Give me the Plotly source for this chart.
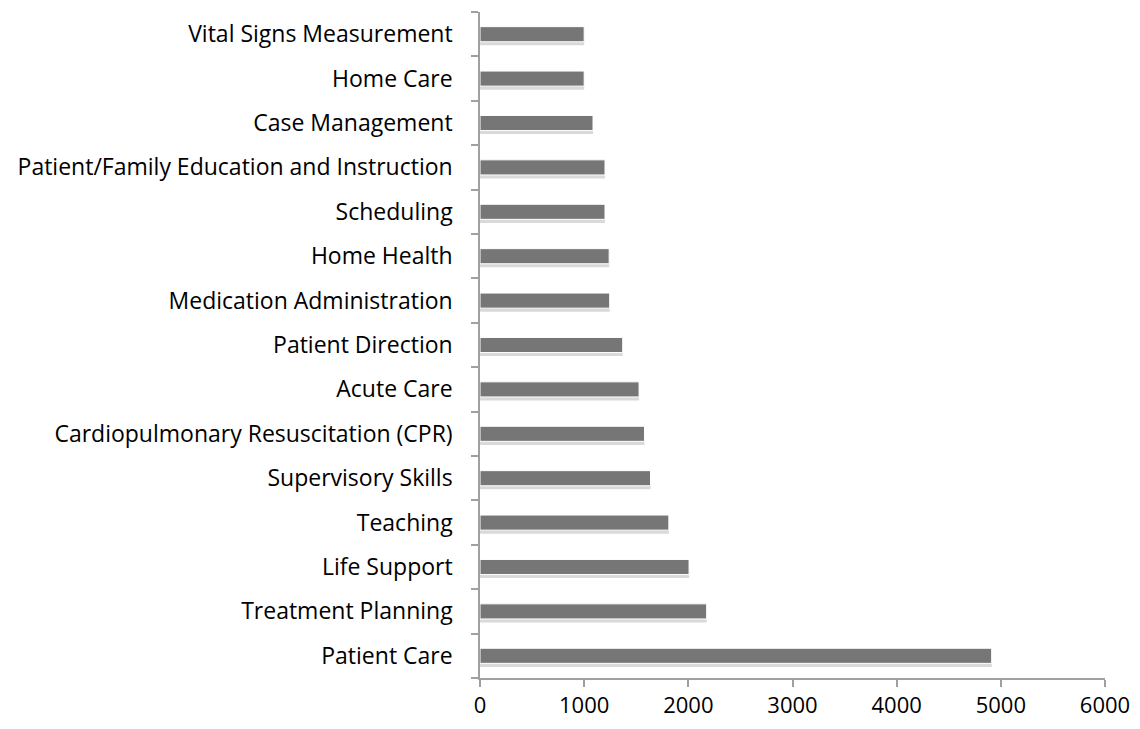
import plotly.graph_objects as go

categories = [
    "Patient Care", "Treatment Planning", "Life Support", "Teaching",
    "Supervisory Skills", "Cardiopulmonary Resuscitation (CPR)", "Acute Care",
    "Patient Direction", "Medication Administration", "Home Health",
    "Scheduling", "Patient/Family Education and Instruction",
    "Case Management", "Home Care", "Vital Signs Measurement",
]
values = [4912, 2176, 2007, 1813, 1637, 1579, 1527, 1370, 1245, 1240,
          1200, 1200, 1085, 1000, 1000]
x_ticks = [0, 1000, 2000, 3000, 4000, 5000, 6000]

fig = go.Figure()
# soft drop shadow under each bar
fig.add_trace(go.Bar(
    x=values, y=categories, orientation="h", width=0.34, offset=-0.25,
    marker=dict(color="#d9d9d9", line=dict(width=0)), hoverinfo="skip",
))
fig.add_trace(go.Bar(
    x=values, y=categories, orientation="h", width=0.34, offset=-0.17,
    marker=dict(color="#767676", line=dict(color="#ffffff", width=1)),
))

font_y = dict(family="'Open Sans', Lato, sans-serif", size=23, color="#000000")
font_x = dict(family="'Open Sans', Lato, sans-serif", size=22, color="#000000")
fig.update_layout(
    width=1132, height=721,
    margin=dict(l=472, r=35, t=4, b=51),
    paper_bgcolor="white", plot_bgcolor="white",
    showlegend=False, barmode="overlay",
    font=font_y,
)
fig.update_xaxes(
    range=[0, 6000], tickvals=x_ticks, ticktext=[str(v) for v in x_ticks],
    showgrid=False, zeroline=False, showline=True, linecolor="#a0a0a0", linewidth=1.5,
    ticks="outside", ticklen=7, tickcolor="#a0a0a0", tickwidth=1.5,
    tickfont=font_x,
)
fig.update_yaxes(
    categoryorder="array", categoryarray=categories,
    range=[-0.5, len(categories) - 0.5],
    showgrid=False, zeroline=False, showline=True, linecolor="#a0a0a0", linewidth=1.5,
    ticks="outside", ticklen=7, tickcolor="#a0a0a0", tickwidth=1.5,
    tickson="boundaries", tickfont=font_y, ticklabelstandoff=21,
)
fig.write_html("out.html")
